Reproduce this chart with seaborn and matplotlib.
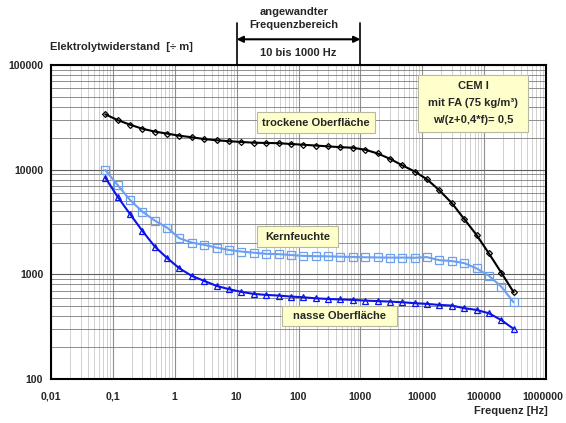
import matplotlib
matplotlib.use("Agg")
import matplotlib.pyplot as plt
import matplotlib.ticker as mticker
import matplotlib.transforms as mtrans
from matplotlib.patches import Rectangle
import numpy as np
import pandas as pd
import seaborn as sns

# ---------------- data ----------------
freq_hz = [0.0754, 0.119, 0.189, 0.3, 0.476, 0.754, 1.19, 1.89, 3.0, 4.76,
           7.54, 11.9, 18.9, 30, 47.6, 75.4, 119, 189, 300, 476,
           754, 1194, 1893, 3000, 4760, 7540, 11900, 18900, 30000, 47600,
           75400, 119000, 189000, 300000]

trocken = [33800, 29800, 26900, 24600, 23100, 22100, 21100, 20400, 19600, 19100,
           18700, 18400, 18100, 18000, 17900, 17600, 17300, 17000, 16700, 16400,
           16200, 15500, 14300, 12700, 11000, 9600, 8100, 6350, 4800, 3380,
           2380, 1590, 1040, 675]

kernfeuchte = [9930, 7150, 5140, 3970, 3260, 2790, 2210, 2010, 1910, 1800,
               1710, 1650, 1610, 1570, 1560, 1530, 1500, 1490, 1485, 1475,
               1465, 1455, 1450, 1445, 1445, 1440, 1460, 1365, 1340, 1280,
               1140, 971, 764, 540]

nass = [8400, 5520, 3770, 2600, 1840, 1430, 1140, 966, 865, 775,
        721, 680, 650, 636, 627, 613, 604, 590, 582, 575,
        570, 561, 555, 549, 541, 530, 522, 510, 503, 475,
        457, 425, 366, 301]

series_names = ["trockene Oberfläche", "Kernfeuchte", "nasse Oberfläche"]
xtick_vals = [0.01, 0.1, 1, 10, 100, 1000, 10000, 100000, 1000000]
xtick_labels = ["0,01", "0,1", "1", "10", "100", "1000", "10000", "100000", "1000000"]
ytick_vals = [100, 1000, 10000, 100000]
ytick_labels = ["100", "1000", "10000", "100000"]
freq_range = [10, 1000]

# ---------------- style ----------------
sns.set_style("white")
plt.rcParams["font.family"] = ["Liberation Sans", "DejaVu Sans"]
plt.rcParams["font.weight"] = "bold"
FS = 8.0
TFS = 7.6

W, H = 566, 423
fig = plt.figure(figsize=(W / 100, H / 100), dpi=100)
L, R, T, B = 51, 546, 65, 379
ax = fig.add_axes([L / W, 1 - B / H, (R - L) / W, (B - T) / H])

def fx(px):
    return px / W

def fy(py):
    return 1 - py / H

ax.set_xscale("log")
ax.set_yscale("log")
ax.set_xlim(0.01, 1e6)
ax.set_ylim(100, 1e5)

# grid
ax.set_axisbelow(True)
ax.xaxis.set_minor_locator(mticker.LogLocator(base=10, subs=np.arange(2, 10)))
ax.yaxis.set_minor_locator(mticker.LogLocator(base=10, subs=np.arange(2, 10)))
ax.grid(True, which="major", axis="x", color="#909090", lw=0.8)
ax.grid(True, which="minor", axis="x", color="#d0d0d0", lw=0.7)
ax.grid(True, which="major", axis="y", color="#606060", lw=0.8)
ax.grid(True, which="minor", axis="y", color="#7c7c7c", lw=0.6)

# data
df = pd.DataFrame({
    "f": freq_hz * 3,
    "R": trocken + kernfeuchte + nass,
    "serie": sum([[n] * len(freq_hz) for n in series_names], []),
})
styles = {
    "trockene Oberfläche": dict(color="#000000", marker="D", ms=3.0, lw=1.5),
    "Kernfeuchte": dict(color="#6b9ff0", marker="s", ms=5.5, lw=1.5),
    "nasse Oberfläche": dict(color="#0a14e6", marker="^", ms=4.8, lw=1.5),
}
for name in series_names:
    st = styles[name]
    sub = df[df["serie"] == name]
    sns.lineplot(data=sub, x="f", y="R", ax=ax, color=st["color"], lw=st["lw"],
                 marker=st["marker"], markersize=st["ms"], markerfacecolor="none",
                 markeredgecolor=st["color"], markeredgewidth=0.9,
                 legend=False, zorder=3)

ax.set_xlabel("")
ax.set_ylabel("")
ax.set_xticks(xtick_vals)
ax.set_xticklabels(xtick_labels)
ax.set_yticks(ytick_vals)
ax.set_yticklabels(ytick_labels)
ax.tick_params(axis="both", which="major", length=3.5, width=0.8, direction="out",
               labelsize=TFS, color="black")
ax.tick_params(axis="x", which="major", pad=5.5)
ax.tick_params(axis="y", which="major", pad=2)
ax.tick_params(which="minor", length=0)
for lab in ax.get_xticklabels() + ax.get_yticklabels():
    lab.set_fontweight("bold")
# keep the last x label inside the figure, as in the reference
last = ax.get_xticklabels()[-1]
last.set_transform(last.get_transform() + mtrans.ScaledTranslation(-3 / 100, 0, fig.dpi_scale_trans))
for s in ax.spines.values():
    s.set_color("black")
    s.set_linewidth(1.5)

# boxes
def box(x0, y0, x1, y1, lines, ys):
    fig.patches.append(Rectangle((fx(x0), fy(y1)), fx(x1) - fx(x0), fy(y0) - fy(y1),
                                 transform=fig.transFigure, fc="#ffffcc",
                                 ec="#b8b8a0", lw=0.8, zorder=5))
    for t, yy in zip(lines, ys):
        fig.text(fx((x0 + x1) / 2), fy(yy), t, ha="center", va="center",
                 fontsize=FS, fontweight="bold", zorder=6)

box(257, 112, 375, 133, ["trockene Oberfläche"], [122.5])
box(257, 226, 338, 247, ["Kernfeuchte"], [236.5])
box(282, 306, 397, 326, ["nasse Oberfläche"], [316])
box(418, 75, 528, 132, ["CEM I", "mit FA (75 kg/m³)", "w/(z+0,4*f)= 0,5"], [86, 103, 120])

# frequency range annotation
top_frac = 1 + (T - 22.7) / (B - T)
arr_frac = 1 + (T - 39.3) / (B - T)
trans = ax.get_xaxis_transform()
for fr in freq_range:
    ax.plot([fr, fr], [1.0, top_frac], transform=trans, color="black", lw=1.2,
            clip_on=False, zorder=4)
ax.annotate("", xy=(freq_range[1], arr_frac), xytext=(freq_range[0], arr_frac),
            xycoords=trans, textcoords=trans, annotation_clip=False,
            arrowprops=dict(arrowstyle="<|-|>", color="black", lw=1.5,
                            mutation_scale=9, shrinkA=0, shrinkB=0))
fig.text(fx(294), fy(12), "angewandter", ha="center", va="center", fontsize=FS, fontweight="bold")
fig.text(fx(294), fy(24.5), "Frequenzbereich", ha="center", va="center", fontsize=FS, fontweight="bold")
fig.text(fx(298), fy(52.5), "10 bis 1000 Hz", ha="center", va="center", fontsize=FS, fontweight="bold")

# axis titles
fig.text(fx(50), fy(46.7), "Elektrolytwiderstand  [÷ m]", ha="left", va="center",
         fontsize=FS, fontweight="bold")
fig.text(fx(548), fy(411), "Frequenz [Hz]", ha="right", va="center",
         fontsize=FS, fontweight="bold")

fig.savefig("out.png", dpi=100, facecolor="white")
